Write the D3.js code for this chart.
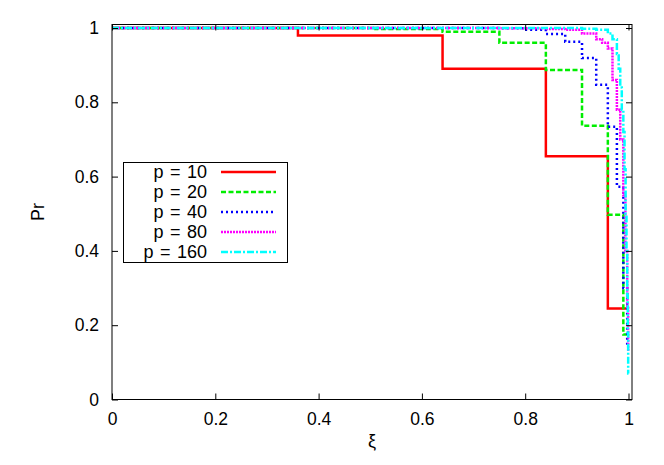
<!DOCTYPE html>
<html>
<head>
<meta charset="utf-8">
<script src="https://cdn.jsdelivr.net/npm/d3@7"></script>
<style>
  html, body { margin: 0; padding: 0; background: #fff; }
  svg { display: block; }
  text { font-family: "Liberation Sans", Arial, sans-serif; fill: #000; }
</style>
</head>
<body>
<svg id="chart" width="664" height="465"></svg>
<script>
// ---- data ----
const xTicks = [0, 0.2, 0.4, 0.6, 0.8, 1];
const yTicks = [0, 0.2, 0.4, 0.6, 0.8, 1];
const xTickLabels = ["0", "0.2", "0.4", "0.6", "0.8", "1"];
const yTickLabels = ["0", "0.2", "0.4", "0.6", "0.8", "1"];

const seriesNames = ["p = 10", "p = 20", "p = 40", "p = 80", "p = 160"];

// step start positions (ξ) and the value held from there on
const xi10 = [0, 0.36, 0.64, 0.84, 0.96, 0.998];
const pr10 = [1, 0.98, 0.89, 0.655, 0.245, 0.245];

const xi20 = [0, 0.51, 0.64, 0.75, 0.84, 0.91, 0.96, 0.99, 0.998];
const pr20 = [1, 0.997, 0.99, 0.96, 0.887, 0.737, 0.497, 0.175, 0.175];

const xi40 = [0, 0.75, 0.7975, 0.84, 0.8775, 0.91, 0.9375, 0.96, 0.9775, 0.99, 0.9975, 1];
const pr40 = [1, 0.999, 0.995, 0.984, 0.963, 0.919, 0.847, 0.734, 0.573, 0.3, 0.14, 0.14];

const xi80 = [0, 0.75, 0.84, 0.8775, 0.91, 0.9375, 0.949, 0.96, 0.969, 0.9775, 0.984, 0.99, 0.994, 0.9975, 0.9994, 1];
const pr80 = [1, 0.999, 0.997, 0.995, 0.985, 0.97, 0.96, 0.945, 0.86, 0.78, 0.7, 0.55, 0.4, 0.25, 0.13, 0.13];

const xi160 = [0, 0.91, 0.9375, 0.96, 0.969, 0.9775, 0.981, 0.984, 0.987, 0.99, 0.9923, 0.9944, 0.9961, 0.9975, 0.9986, 0.9994, 1];
const pr160 = [1, 0.998, 0.995, 0.985, 0.97, 0.93, 0.89, 0.84, 0.78, 0.72, 0.62, 0.5, 0.4, 0.28, 0.18, 0.07, 0.07];

const seriesXi = [xi10, xi20, xi40, xi80, xi160];
const seriesPr = [pr10, pr20, pr40, pr80, pr160];
const colors = ["#ff0000", "#00ee00", "#0000ff", "#ff00ff", "#00ffff"];
const dashes = [null, "5,2.5", "2,3", "2,1", "7,2,2,2"];

// ---- layout ----
const svg = d3.select("#chart");
const x = d3.scaleLinear().domain([0, 1]).range([112, 628.5]);
const y = d3.scaleLinear().domain([0, 1]).range([399.5, 28]);
const frame = { left: 112, right: 632, top: 24.5, bottom: 399.5 };

// frame
svg.append("rect")
  .attr("x", frame.left).attr("y", frame.top)
  .attr("width", frame.right - frame.left).attr("height", frame.bottom - frame.top)
  .attr("fill", "none").attr("stroke", "#000").attr("stroke-width", 1);

// series
const line = d3.line().x((d) => x(d[0])).y((d) => y(d[1])).curve(d3.curveStepAfter);
seriesXi.forEach((xs, i) => {
  const pts = xs.map((v, j) => [v, seriesPr[i][j]]);
  svg.append("path")
    .datum(pts)
    .attr("d", line)
    .attr("fill", "none")
    .attr("stroke", colors[i])
    .attr("stroke-width", 2.5)
    .attr("stroke-dasharray", dashes[i]);
});

// axes (ticks inward, mirrored)
const tickLen = 6;
const axB = svg.append("g").attr("transform", `translate(0,${frame.bottom})`)
  .call(d3.axisBottom(x).tickValues(xTicks).tickSize(-tickLen).tickPadding(13)
    .tickFormat((d, i) => xTickLabels[i]));
const axT = svg.append("g").attr("transform", `translate(0,${frame.top})`)
  .call(d3.axisTop(x).tickValues(xTicks).tickSize(-tickLen).tickFormat(""));
const axL = svg.append("g").attr("transform", `translate(${frame.left},0)`)
  .call(d3.axisLeft(y).tickValues(yTicks).tickSize(-tickLen).tickPadding(13)
    .tickFormat((d, i) => yTickLabels[i]));
const axR = svg.append("g").attr("transform", `translate(${frame.right},0)`)
  .call(d3.axisRight(y).tickValues(yTicks).tickSize(-tickLen).tickFormat(""));
[axB, axT, axL, axR].forEach((g) => {
  g.select(".domain").remove();
  g.selectAll(".tick line").attr("stroke", "#000");
  g.selectAll("text").attr("font-size", 17.5).attr("font-family", "Liberation Sans, Arial, sans-serif").attr("fill", "#000");
});
axB.selectAll("text").attr("dy", "0.71em");

// axis titles
svg.append("text").attr("x", 372).attr("y", 447).attr("text-anchor", "middle")
  .attr("font-size", 18).text("ξ");
svg.append("text").attr("transform", "translate(44,212) rotate(-90)")
  .attr("text-anchor", "middle").attr("font-size", 18).text("Pr");

// legend
const lg = svg.append("g");
lg.append("rect").attr("x", 123.5).attr("y", 162.5).attr("width", 164).attr("height", 100)
  .attr("fill", "#fff").attr("stroke", "#000").attr("stroke-width", 1);
seriesNames.forEach((name, i) => {
  const yy = 172 + i * 20;
  lg.append("text").attr("x", 207).attr("y", yy).attr("dy", "0.36em")
    .attr("text-anchor", "end").attr("font-size", 18).attr("word-spacing", 1.5).text(name);
  lg.append("line").attr("x1", 221).attr("x2", 276).attr("y1", yy).attr("y2", yy)
    .attr("stroke", colors[i]).attr("stroke-width", 2.5)
    .attr("stroke-dasharray", dashes[i]);
});
</script>
</body>
</html>
